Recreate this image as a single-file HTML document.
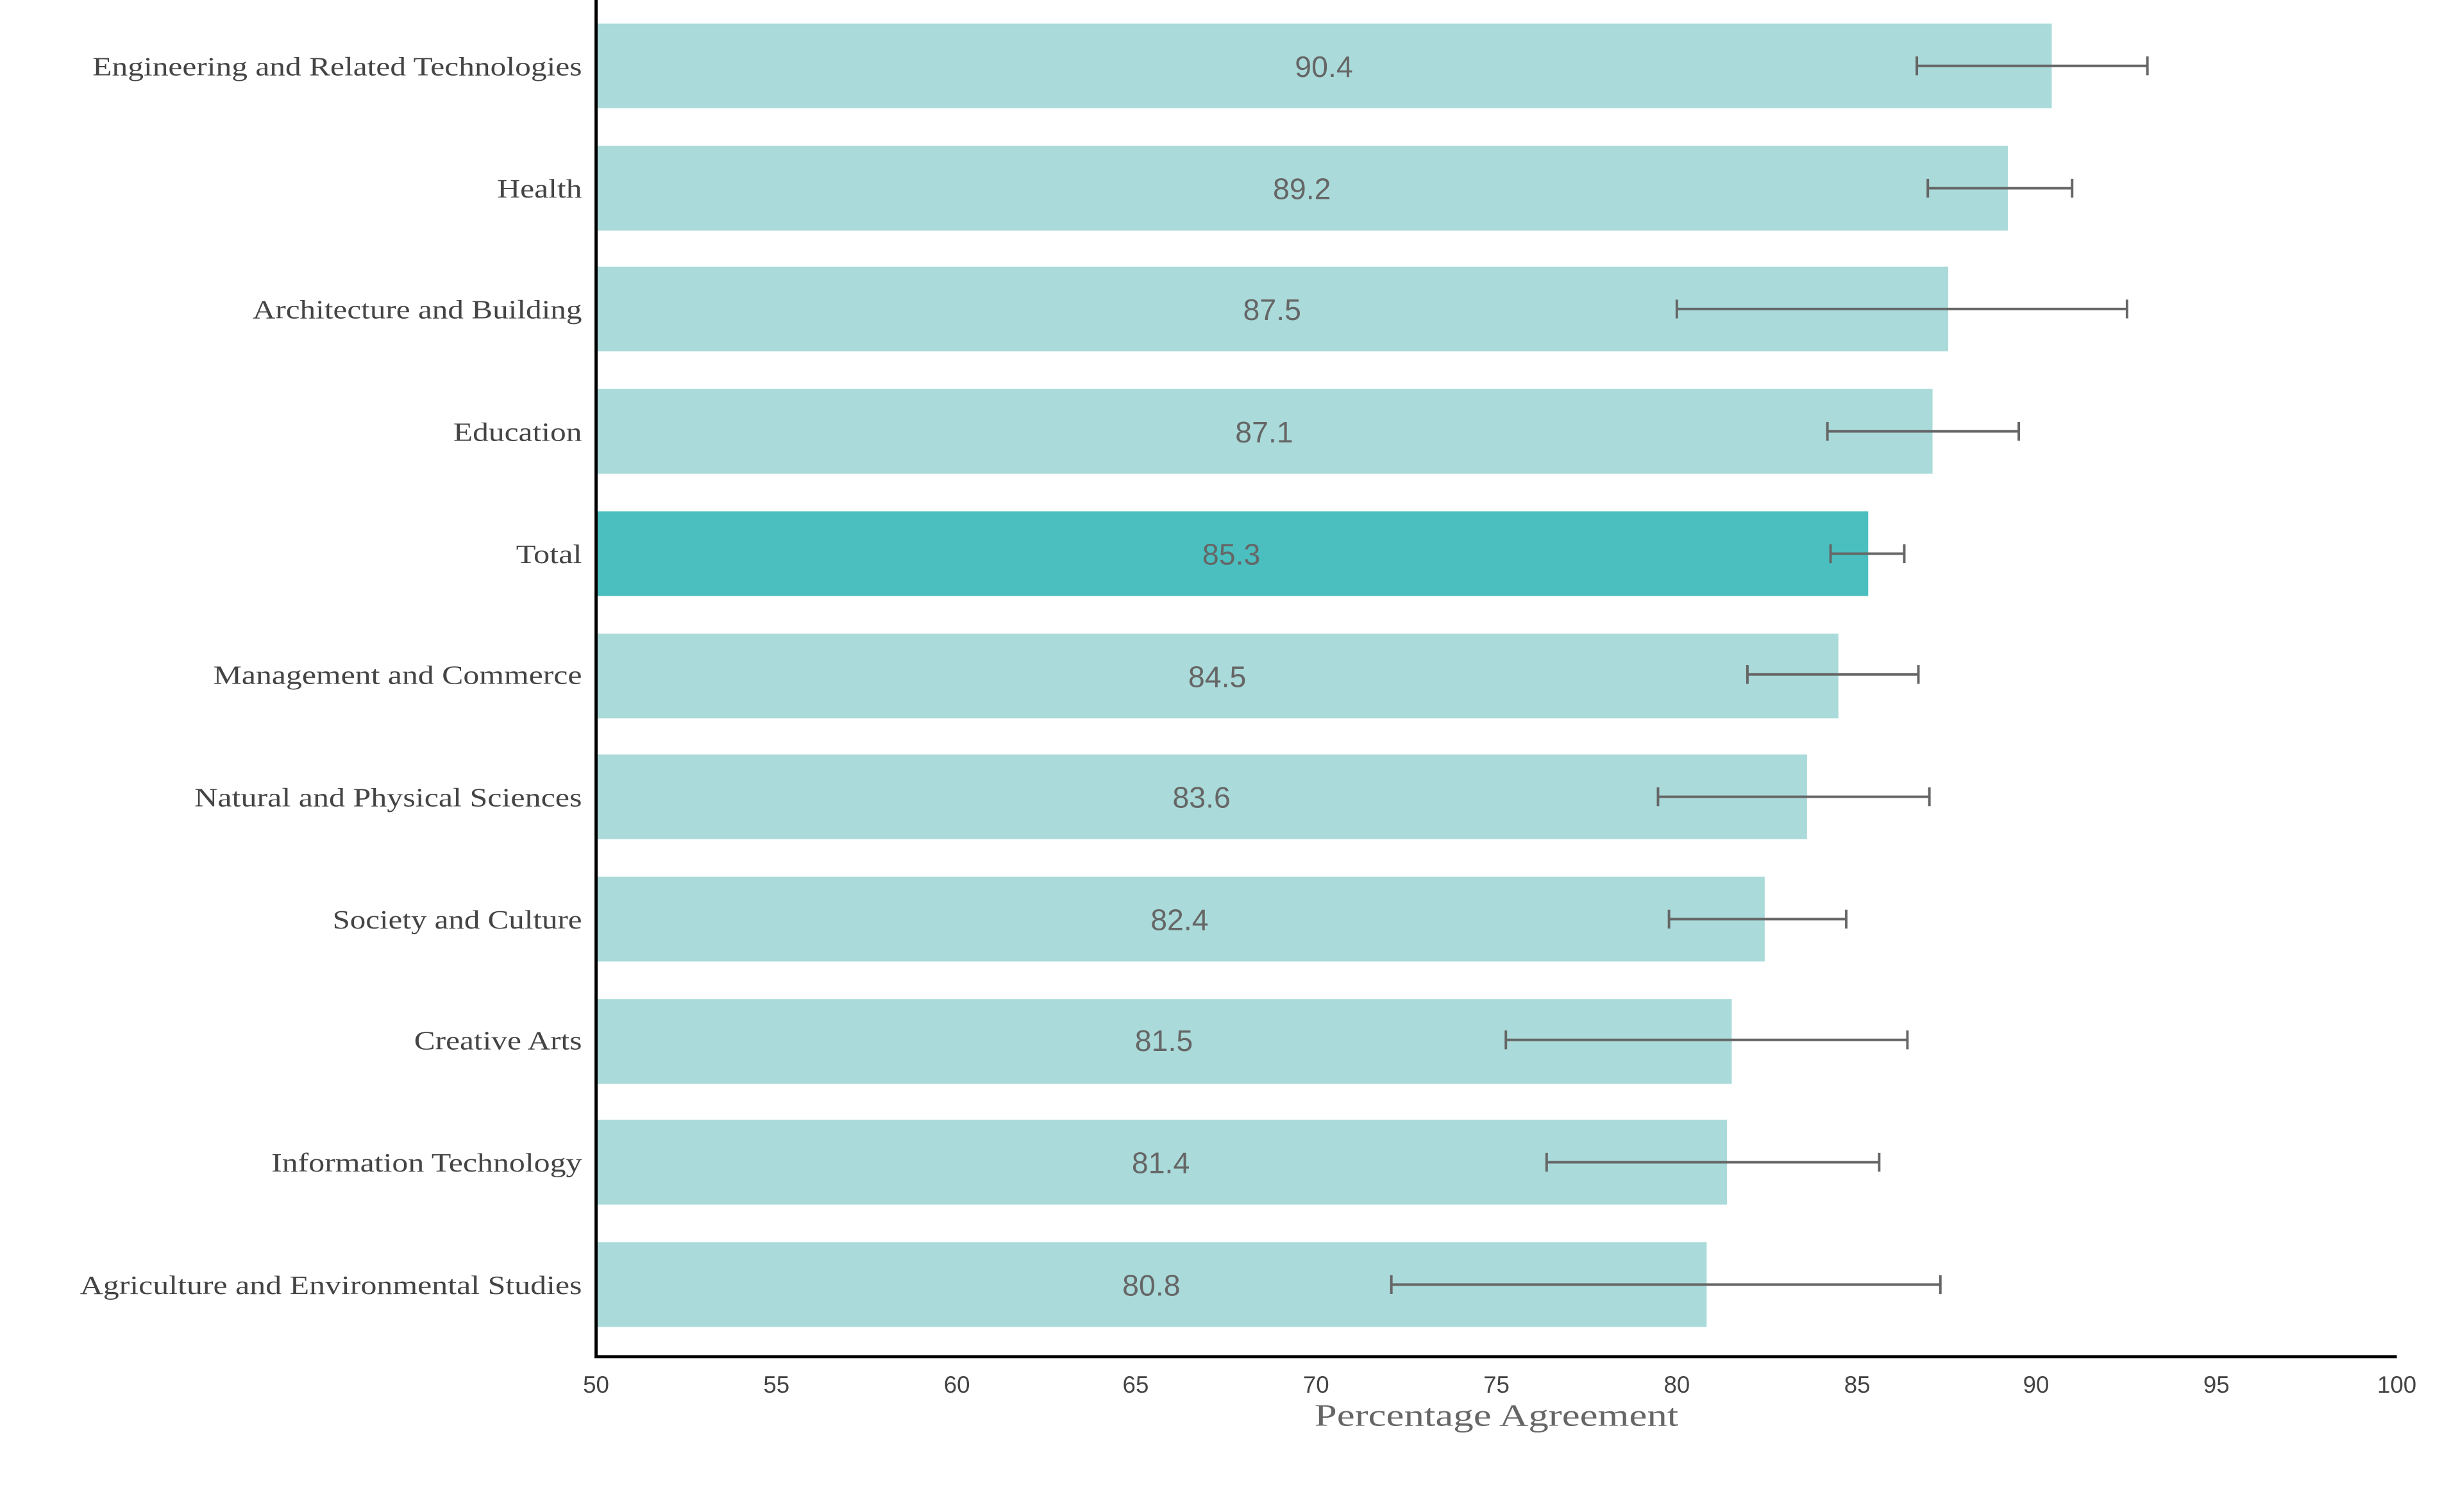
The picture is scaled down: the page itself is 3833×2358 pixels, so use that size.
<!DOCTYPE html>
<html><head><meta charset="utf-8"><style>html,body{margin:0;padding:0;background:#fff}svg{display:block}</style></head>
<body>
<svg width="3833" height="2358" viewBox="0 0 1567 964" preserveAspectRatio="none" xmlns="http://www.w3.org/2000/svg">
<g font-family="'Liberation Serif', serif" font-size="17" fill="#444" text-anchor="end" lengthAdjust="spacingAndGlyphs">
<text x="371" y="48" textLength="312" lengthAdjust="spacingAndGlyphs">Engineering and Related Technologies</text>
<text x="371" y="126" textLength="54" lengthAdjust="spacingAndGlyphs">Health</text>
<text x="371" y="203" textLength="210" lengthAdjust="spacingAndGlyphs">Architecture and Building</text>
<text x="371" y="281" textLength="82" lengthAdjust="spacingAndGlyphs">Education</text>
<text x="371" y="359" textLength="42" lengthAdjust="spacingAndGlyphs">Total</text>
<text x="371" y="436" textLength="235" lengthAdjust="spacingAndGlyphs">Management and Commerce</text>
<text x="371" y="514" textLength="247" lengthAdjust="spacingAndGlyphs">Natural and Physical Sciences</text>
<text x="371" y="592" textLength="159" lengthAdjust="spacingAndGlyphs">Society and Culture</text>
<text x="371" y="669" textLength="107" lengthAdjust="spacingAndGlyphs">Creative Arts</text>
<text x="371" y="747" textLength="198" lengthAdjust="spacingAndGlyphs">Information Technology</text>
<text x="371" y="825" textLength="320" lengthAdjust="spacingAndGlyphs">Agriculture and Environmental Studies</text>
</g>
<g fill="#aadada">
<rect x="380" y="15" width="928" height="54"/>
<rect x="380" y="93" width="900" height="54"/>
<rect x="380" y="170" width="862" height="54"/>
<rect x="380" y="248" width="852" height="54"/>
<rect x="380" y="326" width="811" height="54" fill="#4bbfbf"/>
<rect x="380" y="404" width="792" height="54"/>
<rect x="380" y="481" width="772" height="54"/>
<rect x="380" y="559" width="745" height="54"/>
<rect x="380" y="637" width="724" height="54"/>
<rect x="380" y="714" width="721" height="54"/>
<rect x="380" y="792" width="708" height="54"/>
</g>
<g font-family="'Liberation Sans', sans-serif" font-size="19" fill="#666" text-anchor="middle">
<text x="844" y="49">90.4</text>
<text x="830" y="127">89.2</text>
<text x="811" y="204">87.5</text>
<text x="806" y="282">87.1</text>
<text x="785" y="360">85.3</text>
<text x="776" y="438">84.5</text>
<text x="766" y="515">83.6</text>
<text x="752" y="593">82.4</text>
<text x="742" y="670">81.5</text>
<text x="740" y="748">81.4</text>
<text x="734" y="826">80.8</text>
</g>
<g stroke="#666" stroke-width="1.6" fill="none">
<path d="M1222 42H1369M1222 36V48M1369 36V48"/>
<path d="M1229 120H1321M1229 114V126M1321 114V126"/>
<path d="M1069 197H1356M1069 191V203M1356 191V203"/>
<path d="M1165 275H1287M1165 269V281M1287 269V281"/>
<path d="M1167 353H1214M1167 347V359M1214 347V359"/>
<path d="M1114 430H1223M1114 424V436M1223 424V436"/>
<path d="M1057 508H1230M1057 502V514M1230 502V514"/>
<path d="M1064 586H1177M1064 580V592M1177 580V592"/>
<path d="M960 663H1216M960 657V669M1216 657V669"/>
<path d="M986 741H1198M986 735V747M1198 735V747"/>
<path d="M887 819H1237M887 813V825M1237 813V825"/>
</g>
<path d="M380 0V865H1528" stroke="#000" stroke-width="2" fill="none"/>
<g font-family="'Liberation Sans', sans-serif" font-size="15" fill="#444" text-anchor="middle">
<text x="380" y="888">50</text><text x="495" y="888">55</text><text x="610" y="888">60</text>
<text x="724" y="888">65</text><text x="839" y="888">70</text><text x="954" y="888">75</text>
<text x="1069" y="888">80</text><text x="1184" y="888">85</text><text x="1298" y="888">90</text>
<text x="1413" y="888">95</text><text x="1528" y="888">100</text>
</g>
<text x="954" y="909" font-family="'Liberation Serif', serif" font-size="20" fill="#666" text-anchor="middle" textLength="232" lengthAdjust="spacingAndGlyphs">Percentage Agreement</text>
</svg>
</body></html>
